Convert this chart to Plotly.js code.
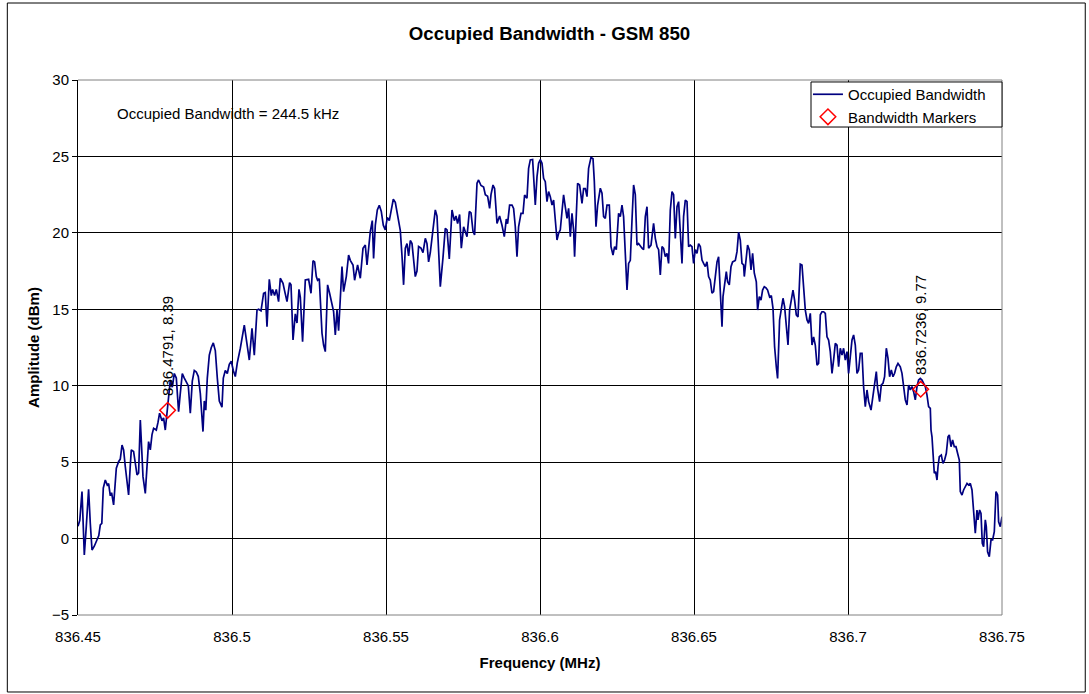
<!DOCTYPE html>
<html>
<head>
<meta charset="utf-8">
<script src="https://cdn.plot.ly/plotly-3.0.1.min.js"></script>
<style>
  html, body { margin: 0; padding: 0; background: #ffffff; }
  #chart { width: 1089px; height: 694px; }
</style>
</head>
<body>
<div id="chart"></div>
<script>
// ---- Data ----
const freqMHz = [
  836.45000,836.45058,836.45130,836.45205,836.45269,836.45344,836.45399,836.45455,836.45529,836.45617,
  836.45675,836.45724,836.45773,836.45821,836.45886,836.45951,836.45994,836.46049,836.46091,836.46156,
  836.46211,836.46244,836.46318,836.46373,836.46429,836.46481,836.46536,836.46591,836.46643,836.46698,
  836.46731,836.46805,836.46860,836.46916,836.46968,836.47023,836.47065,836.47110,836.47185,836.47240,
  836.47292,836.47347,836.47403,836.47455,836.47542,836.47597,836.47649,836.47727,836.47779,836.47834,
  836.47890,836.47942,836.47997,
  836.48062,836.48127,836.48192,836.48266,836.48321,836.48386,836.48451,836.48516,836.48581,836.48646,
  836.48711,836.48776,836.48841,836.48906,836.48971,836.49058,836.49101,836.49149,836.49198,836.49263,
  836.49328,836.49393,836.49458,836.49523,836.49588,836.49675,836.49718,836.49782,836.49847,836.49912,
  836.49977,836.50042,836.50107,836.50172,836.50270,
  836.50399,836.50464,836.50497,836.50562,836.50649,836.50724,836.50812,836.50864,836.50942,836.51026,
  836.51081,836.51136,836.51211,836.51276,836.51318,836.51383,836.51438,836.51513,836.51568,836.51656,
  836.51708,836.51786,836.51870,836.51916,836.51981,836.52055,836.52110,836.52175,836.52218,836.52292,
  836.52380,836.52487,836.52565,836.52630,836.52682,836.52737,836.52779,836.52834,836.52922,836.52974,
  836.53029,836.53104,836.53169,836.53247,836.53299,836.53354,836.53409,836.53461,836.53516,836.53571,
  836.53623,836.53711,836.53786,836.53841,836.53929,836.53981,836.54078,836.54166,836.54253,836.54328,
  836.54383,836.54435,836.54490,836.54555,836.54597,836.54653,836.54718,836.54782,836.54847,836.54912,
  836.54977,836.55042,836.55107,836.55172,836.55237,836.55302,836.55367,836.55432,
  836.55464,836.55519,836.55571,836.55627,836.55682,836.55734,836.55789,836.55844,836.55896,836.55951,
  836.56006,836.56058,836.56136,836.56201,836.56276,836.56331,836.56383,836.56438,836.56513,836.56601,
  836.56656,836.56708,836.56763,836.56851,836.56925,836.56981,836.57055,836.57143,836.57218,836.57273,
  836.57325,836.57390,836.57445,836.57520,836.57575,836.57630,836.57705,836.57760,836.57825,836.57877,
  836.57955,836.58006,836.58084,836.58169,836.58224,836.58299,836.58364,836.58409,836.58474,836.58526,
  836.58604,836.58688,836.58766,836.58841,836.58906,836.58948,836.59013,836.59091,836.59143,836.59198,
  836.59253,836.59305,836.59383,836.59448,836.59500,836.59578,836.59630,836.59685,836.59760,836.59815,
  836.59847,836.59903,836.59955,836.60010,836.60065,836.60117,836.60172,836.60227,836.60279,836.60334,
  836.60390,836.60442,836.60497,836.60552,836.60604,836.60659,836.60714,836.60766,836.60821,836.60877,
  836.60929,836.60984,836.61039,836.61091,836.61123,836.61179,836.61221,836.61286,836.61364,836.61416,
  836.61471,836.61526,836.61578,836.61656,836.61721,836.61763,836.61818,836.61870,836.61958,
  836.62013,836.62065,836.62120,836.62175,836.62250,836.62305,836.62370,836.62422,836.62477,836.62552,
  836.62607,836.62662,836.62714,836.62769,836.62825,836.62877,836.62932,836.62987,836.63039,836.63094,
  836.63149,836.63201,836.63257,836.63312,836.63364,836.63419,836.63474,836.63526,836.63604,836.63688,
  836.63744,836.63799,836.63851,836.63906,836.63961,836.64013,836.64068,836.64123,836.64175,836.64231,
  836.64286,836.64338,836.64393,836.64448,836.64500,836.64555,836.64610,836.64662,836.64718,836.64773,
  836.64825,836.64880,836.64935,836.64987,836.65042,836.65097,836.65149,836.65205,836.65260,836.65312,
  836.65367,836.65422,836.65474,836.65529,836.65584,836.65636,836.65692,836.65747,836.65799,836.65854,
  836.65909,836.65942,836.65984,836.66049,836.66091,836.66146,836.66201,836.66253,836.66341,836.66396,
  836.66448,836.66503,836.66558,836.66610,836.66633,836.66688,836.66740,836.66795,836.66851,836.66903,
  836.66958,836.67023,836.67065,836.67120,836.67175,836.67227,836.67282,836.67338,836.67390,836.67455,
  836.67510,836.67565,836.67617,836.67672,836.67714,836.67779,836.67834,836.67890,836.67942,836.67997,
  836.68052,836.68104,836.68159,836.68214,836.68266,836.68321,836.68377,836.68451,836.68506,836.68558,
  836.68614,836.68669,836.68721,836.68776,836.68831,836.68883,836.68938,836.68994,836.69045,836.69101,
  836.69156,836.69208,836.69263,836.69318,836.69370,836.69425,836.69481,836.69532,836.69588,836.69643,
  836.69695,836.69750,836.69805,836.69857,836.69912,836.69968,836.70019,836.70075,836.70130,836.70182,
  836.70237,836.70292,836.70344,836.70399,836.70455,836.70506,836.70562,836.70617,836.70669,836.70747,
  836.70812,836.70854,836.70919,836.70961,836.71026,836.71081,836.71136,836.71188,836.71244,836.71299,
  836.71351,836.71406,836.71461,836.71513,836.71568,836.71623,836.71698,836.71753,836.71805,836.71860,
  836.71916,836.71968,836.72023,836.72078,836.72130,836.72185,836.72240,836.72292,836.72347,836.72403,
  836.72455,836.72510,836.72565,836.72617,836.72672,836.72695,836.72727,836.72760,836.72802,836.72844,
  836.72890,836.72922,836.72964,836.73029,836.73084,836.73136,836.73192,836.73247,836.73289,836.73344,
  836.73396,836.73451,836.73506,836.73558,836.73614,836.73646,836.73701,836.73753,836.73808,836.73864,
  836.73916,836.73971,836.74026,836.74078,836.74133,836.74188,836.74221,836.74273,836.74318,836.74360,
  836.74403,836.74458,836.74490,836.74532,836.74588,836.74643,836.74695,836.74750,836.74805,836.74857,
  836.74890,836.74945,836.75000
];
const amplitudeDbm = [
  0.8,1.2,3.07,-1.07,0.8,3.22,1.0,-0.75,-0.5,0.0,
  0.2,0.9,1.0,3.3,3.83,3.5,3.6,2.8,3.0,2.2,
  3.5,4.6,5.03,5.2,6.12,5.8,4.7,3.8,2.85,4.8,
  5.8,5.7,4.9,4.16,4.3,7.76,6.0,4.05,2.96,5.0,
  6.34,5.8,6.8,7.21,7.1,7.6,8.2,7.7,7.9,7.1,
  8.2,9.0,10.37,
  9.9,10.8,10.5,8.3,9.5,10.8,10.5,10.2,10.0,8.2,
  10.3,11.0,10.9,10.6,9.5,7.0,9.0,8.4,10.5,12.0,
  12.5,12.8,12.3,10.5,9.0,8.6,10.5,11.0,10.8,11.4,
  11.6,11.0,10.6,11.5,12.45,
  13.97,13.0,12.7,11.68,13.75,12.0,14.95,15.0,14.9,16.05,
  16.1,13.86,16.96,15.9,16.3,15.9,16.3,15.5,17.03,16.7,
  16.2,15.5,16.74,16.6,12.99,14.7,14.1,16.3,15.8,12.88,
  16.92,16.96,16.05,18.18,18.1,17.14,16.9,17.0,13.43,12.66,
  12.23,16.6,16.05,15.39,14.85,13.32,14.95,13.6,16.15,17.79,
  16.15,17.14,18.55,18.2,17.9,16.9,17.9,17.03,18.99,19.2,
  17.9,19.0,20.08,20.8,18.33,20.5,21.5,21.8,21.4,20.5,
  20.2,21.0,20.8,21.5,22.2,22.0,21.2,20.3,
  20.16,18.5,16.6,19.0,19.3,18.5,19.5,19.3,18.1,17.14,
  17.5,19.1,19.0,18.7,19.64,19.3,18.1,18.7,20.0,21.5,
  21.1,18.5,16.48,18.4,20.3,20.2,18.3,21.5,20.8,21.1,
  20.6,21.2,19.0,20.4,20.1,19.75,21.4,21.3,20.1,19.86,
  23.24,23.46,23.1,23.0,22.5,22.4,21.6,22.5,23.13,22.9,
  20.62,21.1,20.5,19.75,20.9,20.6,21.82,21.82,21.6,20.4,
  18.44,20.4,21.28,21.28,22.48,22.26,24.22,24.77,24.8,23.2,
  21.82,23.68,24.55,24.8,24.55,23.57,23.35,22.04,22.7,22.37,
  21.82,22.15,21.06,19.53,19.97,20.2,21.4,22.48,21.7,20.95,
  21.6,19.75,21.28,20.2,18.44,21.5,23.24,23.13,21.93,22.9,
  22.9,22.37,24.22,24.94,24.85,23.4,20.4,21.8,22.92,
  22.6,21.06,20.95,21.82,21.82,19.1,18.55,19.1,18.9,21.28,
  21.06,21.82,21.06,18.44,16.26,18.0,18.2,20.84,23.13,22.5,
  19.2,19.3,19.1,19.0,18.9,21.06,21.71,19.0,19.2,20.62,
  19.64,19.1,18.9,17.25,19.1,18.99,18.44,18.66,18.0,21.5,
  22.7,22.5,19.64,21.71,22.04,19.97,18.0,21.06,22.15,22.04,
  19.1,19.2,19.1,18.0,18.9,18.66,19.3,19.1,18.22,18.0,
  17.8,18.1,17.14,16.9,16.05,16.15,17.14,18.1,18.44,15.6,
  13.86,15.83,16.48,17.46,16.8,16.6,17.79,18.1,18.2,18.77,
  20.04,19.53,18.0,17.9,17.14,18.2,19.2,18.88,17.57,18.66,
  17.36,16.8,14.95,15.83,15.6,16.26,16.48,16.4,16.26,15.8,
  15.9,15.06,12.55,11.24,10.48,14.3,15.06,15.72,15.17,13.64,
  12.66,14.95,15.6,16.26,15.6,14.63,14.5,17.96,17.9,16.48,
  14.95,14.3,14.08,14.73,12.66,13.2,12.66,11.35,11.46,14.64,
  14.84,14.84,14.73,13.2,12.99,12.23,10.81,11.68,12.77,12.66,
  11.24,12.45,12.0,12.45,11.68,12.23,10.81,11.9,12.99,13.32,
  12.66,10.81,11.03,12.12,12.12,9.94,8.63,9.72,8.96,8.41,
  9.28,9.83,10.92,9.83,8.96,10.05,10.16,10.59,12.45,11.79,
  10.59,11.03,10.59,10.81,11.24,11.46,11.24,10.81,9.72,9.07,
  8.74,10.05,9.72,9.94,9.61,9.07,9.94,10.37,10.48,10.37,
  10.16,9.94,9.39,8.63,8.52,7.1,6.66,5.14,4.27,4.38,
  3.83,4.7,5.36,5.47,4.92,5.14,5.58,6.66,6.78,6.01,
  6.45,6.01,6.01,5.58,5.14,3.07,2.85,3.18,3.39,3.61,
  3.5,3.61,3.18,1.87,0.35,1.87,1.22,1.87,1.65,-0.31,
  -0.53,1.22,0.78,-0.86,-1.18,-0.09,-0.09,0.45,3.07,2.85,
  1.1,0.78,1.43
];
const markerFreqMHz = [836.4791, 836.7236];
const markerAmpDbm = [8.39, 9.77];
const markerLabels = ["836.4791, 8.39", "836.7236, 9.77"];
const xTickVals = [836.45, 836.5, 836.55, 836.6, 836.65, 836.7, 836.75];
const xTickText = ["836.45", "836.5", "836.55", "836.6", "836.65", "836.7", "836.75"];
const yTickVals = [-5, 0, 5, 10, 15, 20, 25, 30];
const chartTitle = "Occupied Bandwidth - GSM 850";
const bandwidthNote = "Occupied Bandwidth = 244.5 kHz";

// ---- Figure ----
const FONT = "Liberation Sans, Arial, sans-serif";

const traces = [
  {
    x: freqMHz, y: amplitudeDbm,
    type: "scatter", mode: "lines",
    name: "Occupied Bandwidth",
    line: { color: "#000080", width: 1.7 }
  },
  {
    x: markerFreqMHz, y: markerAmpDbm,
    type: "scatter", mode: "markers",
    name: "Bandwidth Markers",
    marker: { symbol: "diamond-open", color: "#ff0000", size: 12, line: { color: "#ff0000", width: 1.5 } }
  }
];

const annotations = [
  {
    xref: "paper", yref: "paper", x: 0.0404, y: 0.9383,
    xanchor: "left", yanchor: "middle", showarrow: false,
    text: bandwidthNote, font: { family: FONT, size: 15, color: "#000" }
  }
];
markerLabels.forEach((t, i) => {
  annotations.push({
    xref: "x", yref: "y", x: markerFreqMHz[i], y: markerAmpDbm[i],
    text: t, textangle: -90, showarrow: false,
    xanchor: "center", yanchor: "bottom", yshift: 12,
    font: { family: FONT, size: 15, color: "#000" }
  });
});

const layout = {
  width: 1089, height: 694,
  margin: { l: 78, r: 87, t: 80, b: 79 },
  paper_bgcolor: "#ffffff", plot_bgcolor: "#ffffff",
  font: { family: FONT, size: 15, color: "#000" },
  title: {
    text: "<b>" + chartTitle + "</b>",
    font: { family: FONT, size: 18.7, color: "#000" },
    xref: "container", x: 0.5046, xanchor: "center",
    yref: "container", y: 0.952, yanchor: "middle"
  },
  xaxis: {
    range: [836.45, 836.75],
    tickmode: "array", tickvals: xTickVals, ticktext: xTickText,
    showgrid: true, gridcolor: "#000000", gridwidth: 1,
    zeroline: false, showline: false, ticks: "",
    ticklabelstandoff: 11,
    tickfont: { family: FONT, size: 15, color: "#000" },
    title: { text: "<b>Frequency (MHz)</b>", font: { family: FONT, size: 15, color: "#000" }, standoff: 13 }
  },
  yaxis: {
    range: [-5, 30],
    tickmode: "array", tickvals: yTickVals,
    showgrid: true, gridcolor: "#000000", gridwidth: 1,
    zeroline: false, showline: true, linecolor: "#000000", linewidth: 1,
    ticks: "outside", ticklen: 5, tickcolor: "#000000", tickwidth: 1,
    tickfont: { family: FONT, size: 15, color: "#000" },
    title: { text: "<b>Amplitude (dBm)</b>", font: { family: FONT, size: 15, color: "#000" }, standoff: 8 }
  },
  legend: {
    x: 0.790, xanchor: "left", y: 1.0037, yanchor: "top",
    bgcolor: "rgba(0,0,0,0)", borderwidth: 0,
    font: { family: FONT, size: 15, color: "#000" }
  },
  showlegend: true,
  annotations: annotations,
  shapes: [
    { type: "line", xref: "paper", yref: "paper", x0: 0, x1: 1, y0: 1, y1: 1, line: { color: "#808080", width: 1 }, layer: "above" },
    { type: "line", xref: "paper", yref: "paper", x0: 1, x1: 1, y0: 0, y1: 1, line: { color: "#808080", width: 1 }, layer: "above" },
    { type: "line", xref: "paper", yref: "paper", x0: 0, x1: 1, y0: 0, y1: 0, line: { color: "#808080", width: 1 }, layer: "above" },
    // legend frame
    { type: "rect", xref: "paper", yref: "paper", x0: 0.7933, x1: 1.0, y0: 0.9121, y1: 0.9963, line: { color: "#000000", width: 1 }, fillcolor: "#ffffff", layer: "above" },
    // outer chart border
    { type: "rect", xref: "paper", yref: "paper", x0: -0.0765, x1: 1.0901, y0: -0.1439, y1: 1.1439, line: { color: "#000000", width: 1 }, fillcolor: "rgba(0,0,0,0)", layer: "below" }
  ]
};

Plotly.newPlot("chart", traces, layout, { displayModeBar: false, staticPlot: true });
</script>
</body>
</html>
